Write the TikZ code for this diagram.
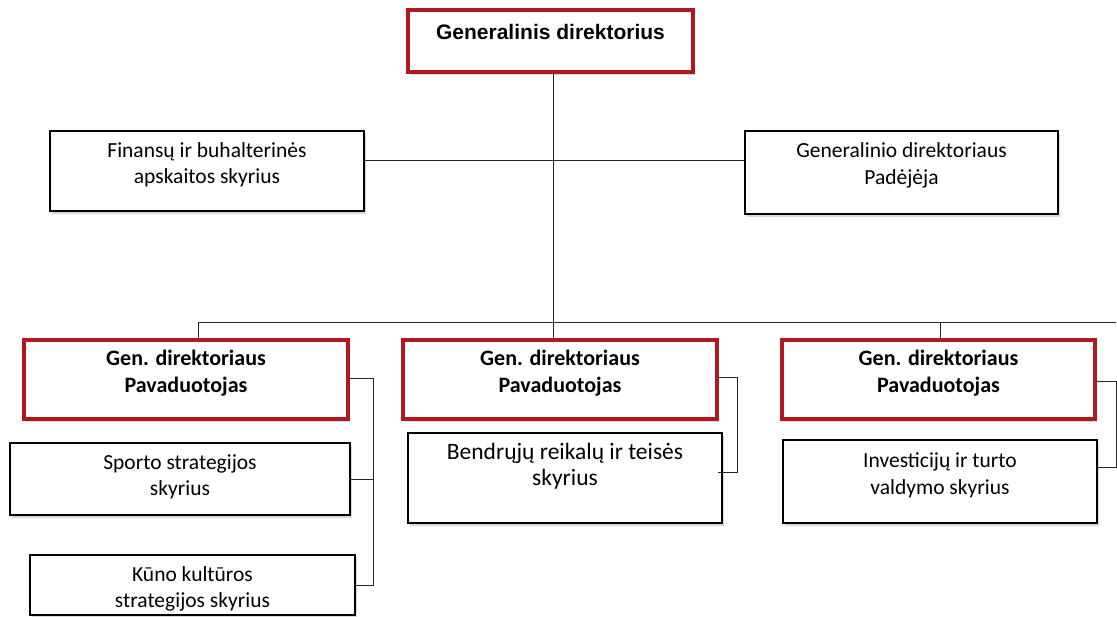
\documentclass[tikz,border=0pt]{standalone}
\usepackage{fontspec}
\setmainfont{Carlito}
\newfontfamily\headfont{Liberation Sans}
\usetikzlibrary{shadows}

\definecolor{boxred}{RGB}{178,22,30}

\tikzset{
  unit/.style={shape=rectangle, draw=black, line width=1.6pt, fill=white,
    drop shadow={shadow xshift=2pt, shadow yshift=-3pt, opacity=.3}},
  redunit/.style={unit, draw=boxred, line width=3.2pt},
  lbl/.style={align=center, inner sep=0pt, font=\fontsize{21.5}{26.5}\selectfont},
  boldlbl/.style={lbl, font=\fontsize{22}{27}\selectfont\bfseries},
  link/.style={line width=0.8pt, draw=black!85}
}

\begin{document}
\begin{tikzpicture}[x=1pt, y=-1pt]
\useasboundingbox (0,0) rectangle (1117,617);

% head and staff units
\node[redunit, minimum width=285pt, minimum height=62pt] (gd) at (550.5,41) {};
\node[lbl, font=\fontsize{21}{25}\headfont\bfseries] (gdt) at ([yshift=9pt]gd.center) {Generalinis direktorius};

\node[unit, minimum width=314pt, minimum height=80pt] (fin) at (207,171) {};
\node[lbl] (fint) at ([yshift=6pt]fin.center) {Finansų ir buhalterinės\\apskaitos skyrius};

\node[unit, minimum width=313pt, minimum height=83pt] (asst) at (901.5,172.5) {};
\node[lbl] (asstt) at ([yshift=7pt]asst.center) {Generalinio direktoriaus\\Padėjėja};

% deputies
\node[redunit, minimum width=324pt, minimum height=79pt] (dep1) at (186,379.5) {};
\node[boldlbl] (dep1t) at ([yshift=6pt]dep1.center) {Gen. direktoriaus\\Pavaduotojas};

\node[redunit, minimum width=314pt, minimum height=79pt] (dep2) at (560,379.5) {};
\node[boldlbl] (dep2t) at ([yshift=6pt]dep2.center) {Gen. direktoriaus\\Pavaduotojas};

\node[redunit, minimum width=313pt, minimum height=79pt] (dep3) at (938.5,379.5) {};
\node[boldlbl] (dep3t) at ([yshift=6pt]dep3.center) {Gen. direktoriaus\\Pavaduotojas};

% departments
\node[unit, minimum width=340pt, minimum height=72pt] (sport) at (180,479) {};
\node[lbl] (sportt) at ([yshift=2pt]sport.center) {Sporto strategijos\\skyrius};

\node[unit, minimum width=325pt, minimum height=60pt] (kuno) at (192.5,585) {};
\node[lbl] (kunot) at ([yshift=-4pt]kuno.center) {Kūno kultūros\\strategijos skyrius};

\node[unit, minimum width=314pt, minimum height=90pt] (bend) at (565,478) {};
\node[lbl, font=\fontsize{23.5}{26}\selectfont] (bendt) at ([yshift=12pt]bend.center) {Bendrųjų reikalų ir teisės\\skyrius};

\node[unit, minimum width=314pt, minimum height=83pt] (inv) at (940,481.5) {};
\node[lbl] (invt) at ([yshift=6pt]inv.center) {Investicijų ir turto\\valdymo skyrius};

% junction points
\coordinate (staff) at (553,160);
\coordinate (bus) at (553,322);
\coordinate (b1) at (198,322);
\coordinate (b3) at (940,322);
\coordinate (bend1) at (373,378);
\coordinate (bend2) at (737,377);
\coordinate (bend3) at (1116,381);

% head to staff and bus
\path[link] (gd.south -| bus) -- (bus);
\path[link] (fin.east |- staff) -- (asst.west |- staff);
\path[link] (b1) -- (1116,322);
\path[link] (b1) -- (b1 |- dep1.north);
\path[link] (bus) -- (bus |- dep2.north);
\path[link] (b3) -- (b3 |- dep3.north);

% deputies to their departments
\path[link] (dep1.east |- bend1) -- (bend1) -- (bend1 |- kuno.east) -- (kuno.east);
\path[link] (bend1 |- sport.east) -- (sport.east);
\path[link] (dep2.east |- bend2) -- (bend2) -- (737,472) -- (718,472);
\path[link] (dep3.east |- bend3) -- (bend3) -- (1116,467) -- (inv.east |- 1116,467);

\end{tikzpicture}
\end{document}
